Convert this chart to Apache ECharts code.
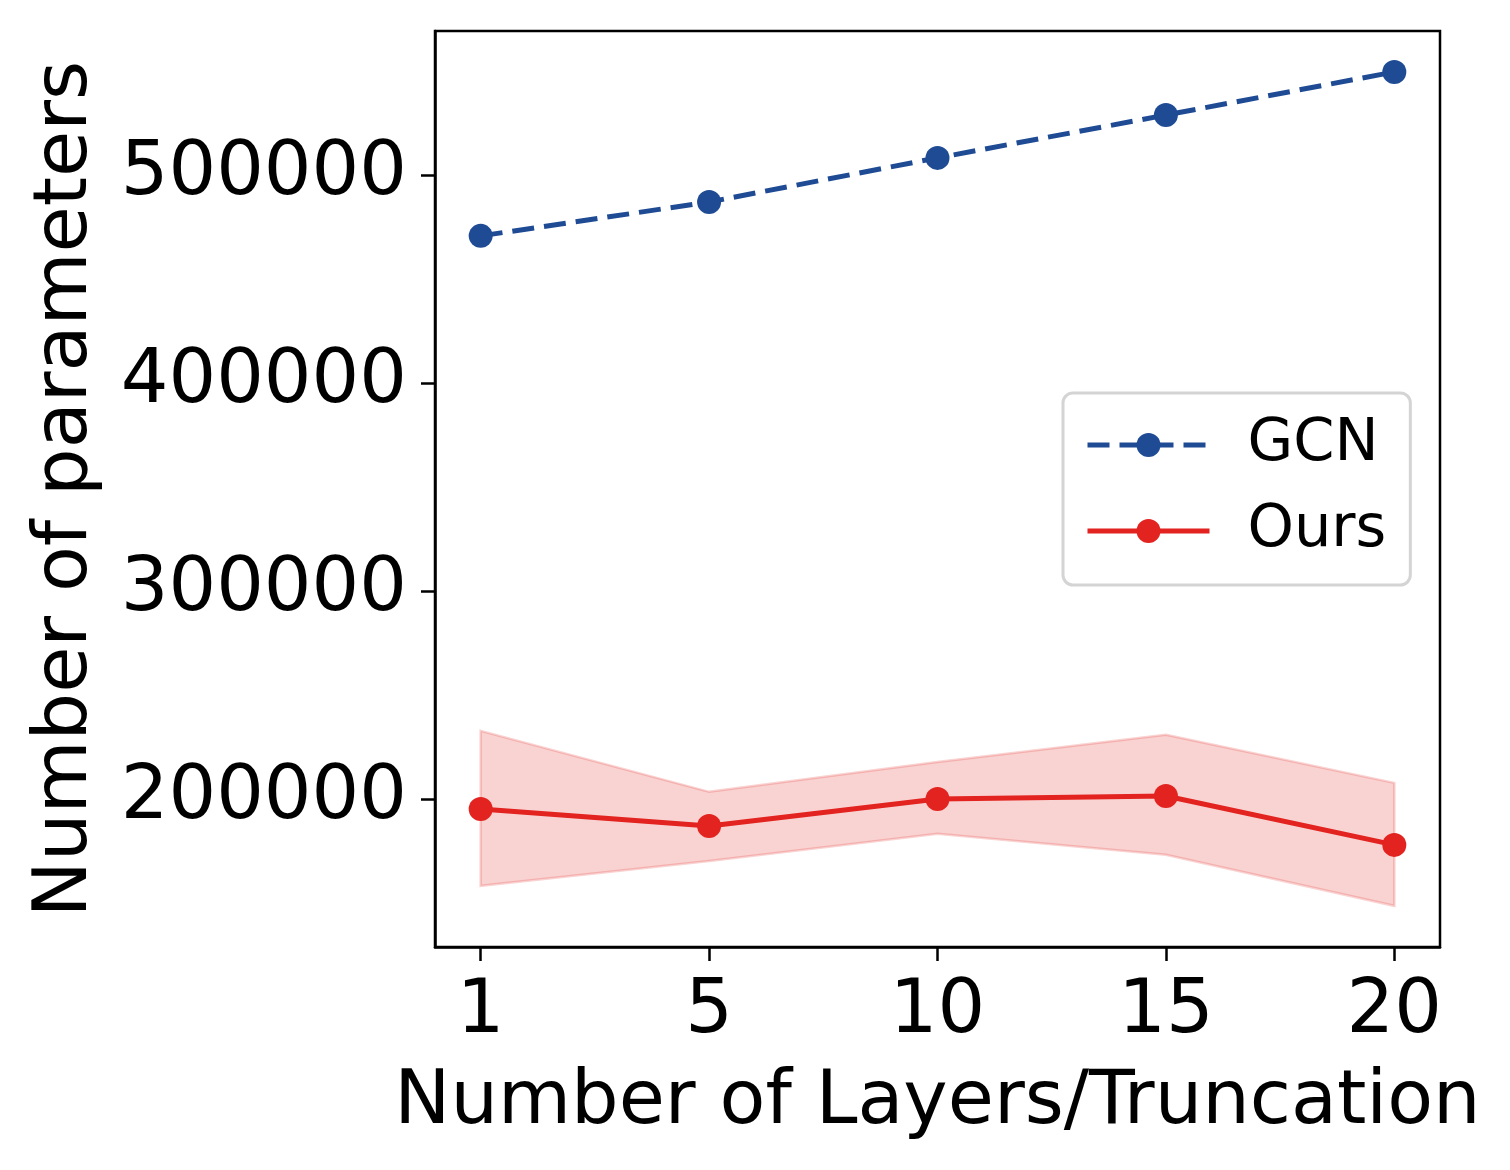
<!DOCTYPE html>
<html>
<head>
<meta charset="utf-8">
<script src="https://cdn.jsdelivr.net/npm/echarts@6/dist/echarts.min.js"></script>
<style>
  html, body { margin: 0; padding: 0; background: #fff; }
  #chart { width: 1510px; height: 1170px; }
</style>
</head>
<body>
<div id="chart"></div>
<script>
// x positions are category slots 0..4, labelled with layer counts
var layerLabels = ['1', '5', '10', '15', '20'];
var gcnParams = [470700, 487000, 508200, 528800, 549500];
var oursParams = [195200, 187000, 200000, 201400, 177900];
var oursLower = [158200, 170200, 183200, 173100, 148600];
var oursUpper = [232700, 203400, 217800, 230800, 207700];
var yTicks = [200000, 300000, 400000, 500000];

var RED = '#e2231f';
var BLUE = '#1f4b94';
var FONT = 'DejaVu Sans';

function pairs(arr) {
  return arr.map(function (v, i) { return [i, v]; });
}

// shaded band: one polygon, upper edge left->right then lower edge back
function renderBand(params, api) {
  var pts = [];
  var i;
  for (i = 0; i < oursUpper.length; i++) pts.push(api.coord([i, oursUpper[i]]));
  for (i = oursLower.length - 1; i >= 0; i--) pts.push(api.coord([i, oursLower[i]]));
  return {
    type: 'polygon',
    shape: { points: pts },
    style: {
      fill: 'rgba(226,35,31,0.2)',
      stroke: 'rgba(226,35,31,0.2)',
      lineWidth: 2.5
    },
    silent: true
  };
}

var chart = echarts.init(document.getElementById('chart'), null, { renderer: 'canvas' });

var option = {
  animation: false,
  backgroundColor: '#fff',
  grid: {
    left: 435, right: 70, top: 31, bottom: 223,
    show: true, borderColor: '#000', borderWidth: 2.5, backgroundColor: 'transparent'
  },
  xAxis: {
    type: 'value',
    min: -0.2,
    max: 4.2,
    name: 'Number of Layers/Truncation',
    nameLocation: 'middle',
    nameGap: 119,
    nameTextStyle: { fontFamily: FONT, fontSize: 75, color: '#000' },
    axisLine: { show: true, onZero: false, lineStyle: { color: '#000', width: 2.5 } },
    axisTick: { show: true, length: 14, lineStyle: { color: '#000', width: 2.5 }, customValues: [0, 1, 2, 3, 4] },
    axisLabel: {
      fontFamily: FONT, fontSize: 75, color: '#000', margin: 28,
      customValues: [0, 1, 2, 3, 4],
      formatter: function (v) { return layerLabels[Math.round(v)]; }
    },
    splitLine: { show: false }
  },
  yAxis: {
    type: 'value',
    min: 128800,
    max: 569200,
    name: 'Number of parameters',
    nameLocation: 'middle',
    nameGap: 331,
    nameTextStyle: { fontFamily: FONT, fontSize: 75, color: '#000' },
    axisLine: { show: true, onZero: false, lineStyle: { color: '#000', width: 2.5 } },
    axisTick: { show: true, length: 14, lineStyle: { color: '#000', width: 2.5 }, customValues: yTicks },
    axisLabel: {
      fontFamily: FONT, fontSize: 75, color: '#000', margin: 28,
      customValues: yTicks,
      formatter: function (v) { return String(v); }
    },
    splitLine: { show: false }
  },
  legend: {
    orient: 'vertical',
    left: 1063,
    top: 393,
    data: ['GCN', 'Ours'],
    backgroundColor: '#fff',
    borderColor: '#d4d4d4',
    borderWidth: 3,
    borderRadius: 10,
    padding: [22, 24, 24, 22],
    itemWidth: 122,
    itemHeight: 30,
    itemGap: 26,
    lineStyle: { width: 5 },
    textStyle: { fontFamily: FONT, fontSize: 59, color: '#000', lineHeight: 60, padding: [0, 0, 0, 33] }
  },
  series: [
    {
      name: 'band',
      type: 'custom',
      renderItem: renderBand,
      data: [[0, oursLower[0]]],
      silent: true,
      z: 1
    },
    {
      name: 'GCN',
      type: 'line',
      data: pairs(gcnParams),
      symbol: 'circle',
      symbolSize: 24,
      itemStyle: { color: BLUE },
      lineStyle: { color: BLUE, width: 5, type: [22, 10] },
      z: 3
    },
    {
      name: 'Ours',
      type: 'line',
      data: pairs(oursParams),
      symbol: 'circle',
      symbolSize: 24,
      itemStyle: { color: RED },
      lineStyle: { color: RED, width: 5 },
      z: 3
    }
  ]
};

chart.setOption(option);
</script>
</body>
</html>
